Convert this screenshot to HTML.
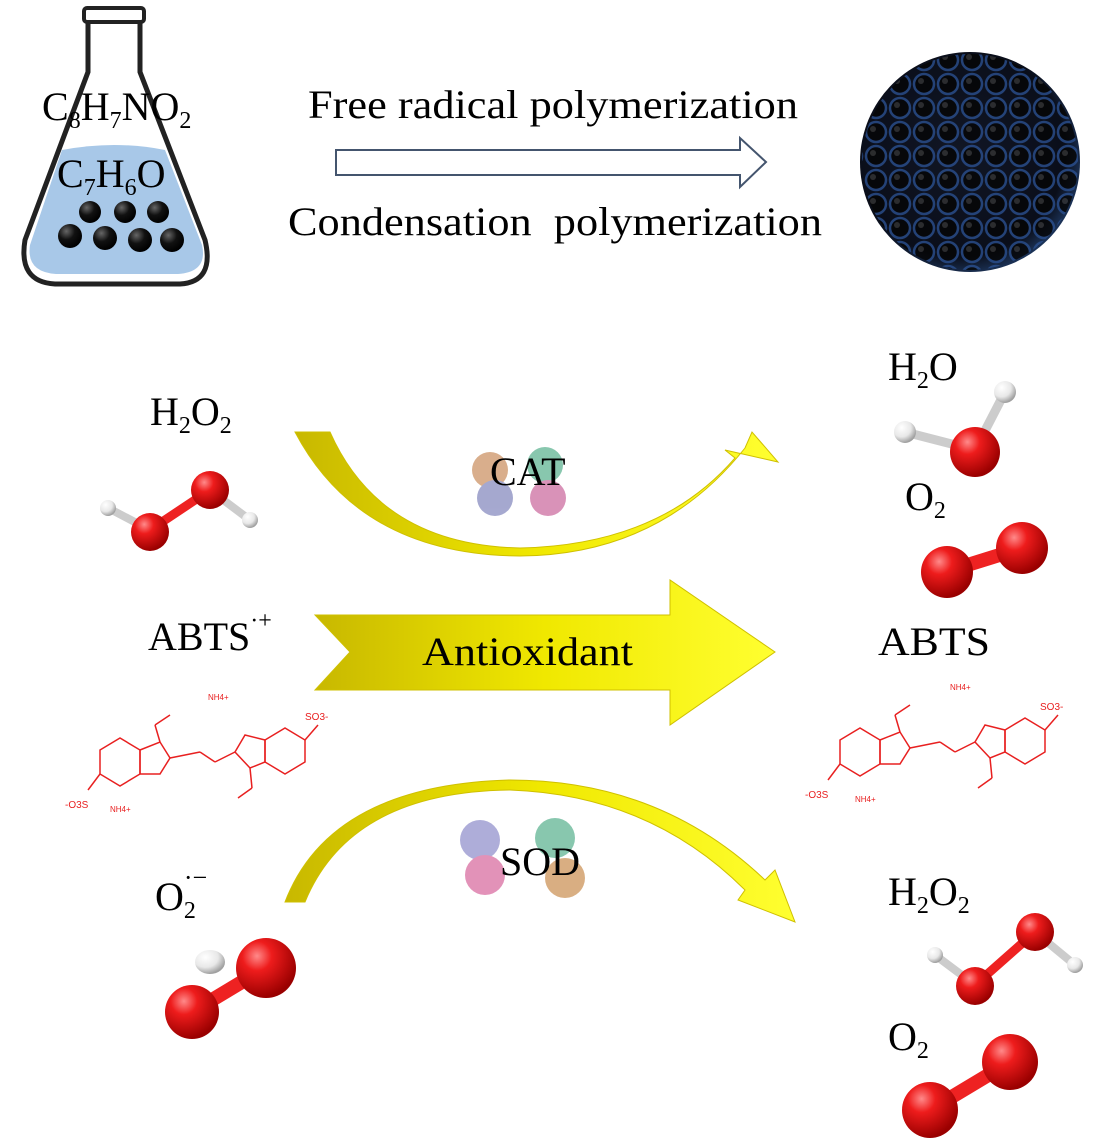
<!DOCTYPE html>
<html><head><meta charset="utf-8"><style>
html,body{margin:0;padding:0;background:#fff;}
svg{display:block;font-family:"Liberation Serif",serif;}
</style></head><body>
<svg width="1097" height="1148" viewBox="0 0 1097 1148" xmlns="http://www.w3.org/2000/svg">
<defs>
<radialGradient id="rb" cx="35%" cy="30%" r="70%"><stop offset="0" stop-color="#ff8a8a"/><stop offset="0.35" stop-color="#ee1c1c"/><stop offset="1" stop-color="#9a0000"/></radialGradient>
<radialGradient id="wb" cx="35%" cy="30%" r="70%"><stop offset="0" stop-color="#ffffff"/><stop offset="0.6" stop-color="#e8e8e8"/><stop offset="1" stop-color="#a0a0a0"/></radialGradient>
<radialGradient id="bk" cx="35%" cy="30%" r="70%"><stop offset="0" stop-color="#666"/><stop offset="0.5" stop-color="#111"/><stop offset="1" stop-color="#000"/></radialGradient>
<radialGradient id="sp" cx="45%" cy="45%" r="60%"><stop offset="0" stop-color="#111625"/><stop offset="0.8" stop-color="#0a0e1a"/><stop offset="1" stop-color="#22406e"/></radialGradient>
<linearGradient id="yg" x1="0" y1="0" x2="1" y2="0"><stop offset="0" stop-color="#c8b800"/><stop offset="0.5" stop-color="#f0e800"/><stop offset="1" stop-color="#ffff30"/></linearGradient>
<pattern id="bub" width="24" height="24" patternUnits="userSpaceOnUse"><circle cx="12" cy="12" r="10" fill="#050505" stroke="#2a4f8e" stroke-width="2.5"/><circle cx="9" cy="9" r="3" fill="#333"/></pattern>
</defs>

<!-- Flask -->
<path d="M88 18 L88 72 L25 240 Q18 282 55 284 L180 284 Q215 282 205 240 L140 72 L140 18" fill="#fff" stroke="#222" stroke-width="5"/>
<rect x="84" y="8" width="60" height="14" rx="3" fill="#fff" stroke="#222" stroke-width="4"/>
<path d="M62 150 Q115 140 165 150 L202 245 Q208 272 178 274 L56 274 Q26 272 30 245 Z" fill="#a8c8e8"/>
<g fill="url(#bk)">
<circle cx="70" cy="236" r="12"/><circle cx="105" cy="238" r="12"/><circle cx="140" cy="240" r="12"/><circle cx="172" cy="240" r="12"/>
<circle cx="90" cy="212" r="11"/><circle cx="125" cy="212" r="11"/><circle cx="158" cy="212" r="11"/>
</g>
<text x="42" y="120" font-size="40">C<tspan font-size="24" dy="8">8</tspan><tspan dy="-8">H</tspan><tspan font-size="24" dy="8">7</tspan><tspan dy="-8">NO</tspan><tspan font-size="24" dy="8">2</tspan></text>
<text x="57" y="187" font-size="40">C<tspan font-size="24" dy="8">7</tspan><tspan dy="-8">H</tspan><tspan font-size="24" dy="8">6</tspan><tspan dy="-8">O</tspan></text>

<text x="308" y="118" font-size="40" textLength="490" lengthAdjust="spacingAndGlyphs">Free radical polymerization</text>
<path d="M336 150 L740 150 L740 138 L766 162 L740 187 L740 175 L336 175 Z" fill="#fff" stroke="#44556e" stroke-width="2"/>
<text x="288" y="235" font-size="40" xml:space="preserve" textLength="534" lengthAdjust="spacingAndGlyphs">Condensation  polymerization</text>

<!-- Sphere -->
<circle cx="970" cy="162" r="110" fill="url(#sp)"/>
<circle cx="970" cy="162" r="108" fill="url(#bub)" opacity="0.8"/>

<!-- CAT curve -->
<path d="M295 432 L330 432 Q380 545 520 548 Q660 545 735 458 L725 450 L778 462 L752 432 L745 448 Q660 555 520 556 Q360 555 295 432 Z" fill="url(#yg)" stroke="#cfc000" stroke-width="1"/>
<g opacity="0.6">
<circle cx="490" cy="470" r="18" fill="#c07a40"/><circle cx="545" cy="465" r="18" fill="#3aa37a"/>
<circle cx="495" cy="498" r="18" fill="#6a70b0"/><circle cx="548" cy="498" r="18" fill="#c04a8a"/>
</g>
<text x="490" y="485" font-size="40">CAT</text>

<!-- H2O2 left top -->
<text x="150" y="425" font-size="40">H<tspan font-size="24" dy="8">2</tspan><tspan dy="-8">O</tspan><tspan font-size="24" dy="8">2</tspan></text>
<line x1="108" y1="508" x2="150" y2="530" stroke="#ccc" stroke-width="8"/>
<line x1="150" y1="530" x2="210" y2="490" stroke="#e22" stroke-width="9"/>
<line x1="210" y1="490" x2="250" y2="520" stroke="#ccc" stroke-width="8"/>
<circle cx="108" cy="508" r="8" fill="url(#wb)"/><circle cx="250" cy="520" r="8" fill="url(#wb)"/>
<circle cx="150" cy="532" r="19" fill="url(#rb)"/><circle cx="210" cy="490" r="19" fill="url(#rb)"/>

<!-- H2O right -->
<text x="888" y="380" font-size="40">H<tspan font-size="24" dy="8">2</tspan><tspan dy="-8">O</tspan></text>
<line x1="905" y1="432" x2="975" y2="450" stroke="#ccc" stroke-width="9"/>
<line x1="1005" y1="392" x2="975" y2="450" stroke="#ccc" stroke-width="9"/>
<circle cx="905" cy="432" r="11" fill="url(#wb)"/><circle cx="1005" cy="392" r="11" fill="url(#wb)"/>
<circle cx="975" cy="452" r="25" fill="url(#rb)"/>
<text x="905" y="510" font-size="40">O<tspan font-size="24" dy="8">2</tspan></text>
<line x1="945" y1="572" x2="1022" y2="548" stroke="#e22" stroke-width="14"/>
<circle cx="947" cy="572" r="26" fill="url(#rb)"/><circle cx="1022" cy="548" r="26" fill="url(#rb)"/>

<!-- Antioxidant arrow -->
<text x="148" y="650" font-size="40">ABTS<tspan font-size="24" dy="-22">·+</tspan></text>
<path d="M315 615 L670 615 L670 580 L775 652 L670 725 L670 690 L315 690 L350 652 Z" fill="url(#yg)" stroke="#cfc000" stroke-width="1"/>
<text x="422" y="665" font-size="40" textLength="211" lengthAdjust="spacingAndGlyphs">Antioxidant</text>
<text x="878" y="655" font-size="40" textLength="112" lengthAdjust="spacingAndGlyphs">ABTS</text>

<!-- ABTS structures -->
<g fill="none" stroke="#e82020" stroke-width="1.5" font-size="10" font-family="Liberation Sans,sans-serif">
<g transform="translate(60,690)">
<polygon points="40,60 60,48 80,60 80,84 60,96 40,84"/>
<polygon points="80,60 100,52 110,68 100,84 80,84"/>
<line x1="100" y1="52" x2="95" y2="35"/><line x1="95" y1="35" x2="110" y2="25"/>
<line x1="110" y1="68" x2="140" y2="62"/><line x1="140" y1="62" x2="155" y2="72"/>
<line x1="155" y1="72" x2="175" y2="62"/>
<polygon points="175,62 185,45 205,50 205,72 190,78"/>
<polygon points="205,50 225,38 245,50 245,72 225,84 205,72"/>
<line x1="190" y1="78" x2="192" y2="98"/><line x1="192" y1="98" x2="178" y2="108"/>
<line x1="40" y1="84" x2="28" y2="100"/><line x1="245" y1="50" x2="258" y2="35"/>
<text x="5" y="118" fill="#e82020" stroke="none">-O3S</text>
<text x="50" y="122" fill="#e82020" stroke="none" font-size="8">NH4+</text>
<text x="148" y="10" fill="#e82020" stroke="none" font-size="8">NH4+</text>
<text x="245" y="30" fill="#e82020" stroke="none">SO3-</text>
</g>
<g transform="translate(800,680)">
<polygon points="40,60 60,48 80,60 80,84 60,96 40,84"/>
<polygon points="80,60 100,52 110,68 100,84 80,84"/>
<line x1="100" y1="52" x2="95" y2="35"/><line x1="95" y1="35" x2="110" y2="25"/>
<line x1="110" y1="68" x2="140" y2="62"/><line x1="140" y1="62" x2="155" y2="72"/>
<line x1="155" y1="72" x2="175" y2="62"/>
<polygon points="175,62 185,45 205,50 205,72 190,78"/>
<polygon points="205,50 225,38 245,50 245,72 225,84 205,72"/>
<line x1="190" y1="78" x2="192" y2="98"/><line x1="192" y1="98" x2="178" y2="108"/>
<line x1="40" y1="84" x2="28" y2="100"/><line x1="245" y1="50" x2="258" y2="35"/>
<text x="5" y="118" fill="#e82020" stroke="none">-O3S</text>
<text x="55" y="122" fill="#e82020" stroke="none" font-size="8">NH4+</text>
<text x="150" y="10" fill="#e82020" stroke="none" font-size="8">NH4+</text>
<text x="240" y="30" fill="#e82020" stroke="none">SO3-</text>
</g>
</g>

<!-- SOD curve -->
<path d="M285 902 L305 902 Q350 792 510 790 Q650 795 745 890 L738 900 L795 922 L775 870 L765 880 Q660 780 510 780 Q330 785 285 902 Z" fill="url(#yg)" stroke="#cfc000" stroke-width="1"/>
<g opacity="0.6">
<circle cx="480" cy="840" r="20" fill="#7a78c0"/><circle cx="555" cy="838" r="20" fill="#3aa37a"/>
<circle cx="485" cy="875" r="20" fill="#d04a8a"/><circle cx="565" cy="878" r="20" fill="#c07a30"/>
</g>
<text x="500" y="875" font-size="40">SOD</text>

<!-- O2 radical -->
<text x="155" y="910" font-size="40">O<tspan font-size="24" dy="8">2</tspan><tspan font-size="26" dy="-32" dx="-12">·−</tspan></text>
<ellipse cx="210" cy="962" rx="15" ry="12" fill="url(#wb)"/>
<line x1="192" y1="1012" x2="265" y2="968" stroke="#e22" stroke-width="14"/>
<circle cx="192" cy="1012" r="27" fill="url(#rb)"/><circle cx="266" cy="968" r="30" fill="url(#rb)"/>

<!-- H2O2 right bottom -->
<text x="888" y="905" font-size="40">H<tspan font-size="24" dy="8">2</tspan><tspan dy="-8">O</tspan><tspan font-size="24" dy="8">2</tspan></text>
<line x1="935" y1="955" x2="975" y2="985" stroke="#ccc" stroke-width="8"/>
<line x1="975" y1="985" x2="1035" y2="932" stroke="#e22" stroke-width="9"/>
<line x1="1035" y1="932" x2="1075" y2="965" stroke="#ccc" stroke-width="8"/>
<circle cx="935" cy="955" r="8" fill="url(#wb)"/><circle cx="1075" cy="965" r="8" fill="url(#wb)"/>
<circle cx="975" cy="986" r="19" fill="url(#rb)"/><circle cx="1035" cy="932" r="19" fill="url(#rb)"/>
<text x="888" y="1050" font-size="40">O<tspan font-size="24" dy="8">2</tspan></text>
<line x1="930" y1="1110" x2="1010" y2="1062" stroke="#e22" stroke-width="14"/>
<circle cx="930" cy="1110" r="28" fill="url(#rb)"/><circle cx="1010" cy="1062" r="28" fill="url(#rb)"/>
</svg>
</body></html>
